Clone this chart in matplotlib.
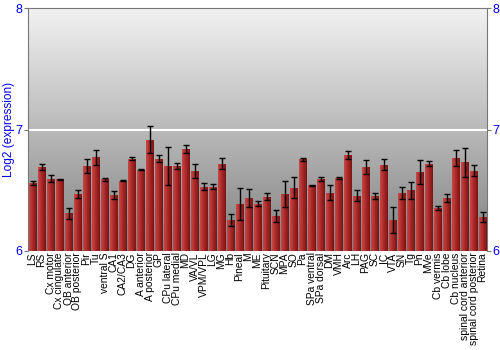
import matplotlib
matplotlib.use('Agg')
import matplotlib.pyplot as plt
import numpy as np
from matplotlib.colors import LinearSegmentedColormap

plt.rcParams['font.family'] = ['Liberation Sans', 'DejaVu Sans']

regions = ['LS', 'RS', 'Cx motor', 'Cx cingulate', 'OB anterior', 'OB posterior',
           'Pir', 'Tu', 'ventral S', 'CA1', 'CA2/CA3', 'DG', 'A anterior',
           'A posterior', 'GP', 'CPu lateral', 'CPu medial', 'MD', 'VA/VL',
           'VPM/VPL', 'LG', 'MG', 'Hb', 'Pineal', 'M', 'ME', 'Pituitary', 'SCN',
           'MPA', 'SO', 'Pa', 'SPa ventral', 'SPa dorsal', 'DM', 'VMH', 'Arc',
           'LH', 'PAG', 'SC', 'IC', 'VTA', 'SN', 'Tg', 'Pn', 'MVe', 'Cb vermis',
           'Cb lobe', 'Cb nucleus', 'spinal cord anterior',
           'spinal cord posterior', 'Retina']

expr = [6.56, 6.69, 6.595, 6.59, 6.31, 6.47, 6.70, 6.77, 6.59, 6.46, 6.58,
        6.76, 6.67, 6.915, 6.76, 6.70, 6.70, 6.84, 6.66, 6.53, 6.53, 6.72,
        6.256, 6.386, 6.435, 6.39, 6.446, 6.29, 6.47, 6.52, 6.755, 6.54,
        6.59, 6.48, 6.60, 6.79, 6.455, 6.69, 6.455, 6.71, 6.256, 6.477,
        6.50, 6.65, 6.72, 6.355, 6.44, 6.766, 6.73, 6.66, 6.28]

err = [0.017, 0.022, 0.028, 0.006, 0.044, 0.033, 0.055, 0.063, 0.011, 0.033,
       0.005, 0.011, 0.005, 0.11, 0.03, 0.157, 0.028, 0.036, 0.058, 0.028,
       0.019, 0.047, 0.05, 0.132, 0.072, 0.022, 0.03, 0.05, 0.105, 0.088,
       0.011, 0.006, 0.017, 0.063, 0.008, 0.03, 0.047, 0.058, 0.025, 0.047,
       0.105, 0.05, 0.069, 0.096, 0.022, 0.019, 0.033, 0.063, 0.12, 0.044,
       0.039]

fig = plt.figure(figsize=(5, 3.5), dpi=100)
ax = fig.add_axes([0.056, 0.283, 0.918, 0.694])

x = np.arange(len(regions))
ax.set_xlim(-0.5, len(regions) - 0.5)
ax.set_ylim(6, 8)

# background: vertical grey gradient
bg = LinearSegmentedColormap.from_list('bg', ['#808080', '#f2f2f2'])
ax.imshow(np.linspace(0, 1, 256).reshape(-1, 1), cmap=bg, origin='lower',
          extent=[0, 1, 0, 1], transform=ax.transAxes, aspect='auto', zorder=0)
ax.axhline(7, color='white', lw=1.5, zorder=1)

bars = ax.bar(x, np.array(expr) - 6, bottom=6, width=0.86, color='#b03030',
              zorder=2, linewidth=0)

# horizontal shading inside each bar
redgrad = LinearSegmentedColormap.from_list('rg', ['#c84848', '#a82828', '#7a1515'])
row = np.linspace(0, 1, 64).reshape(1, -1)
for b in bars:
    x0, w, h = b.get_x(), b.get_width(), b.get_height()
    im = ax.imshow(row, cmap=redgrad, extent=[x0, x0 + w, 6, 6 + h],
                   aspect='auto', zorder=3)
    im.set_clip_path(b)

ax.errorbar(x, expr, yerr=err, fmt='none', ecolor='black', elinewidth=1,
            capsize=2, capthick=1, zorder=4)

ax.set_xticks(x)
ax.set_xticklabels(regions, rotation=90, fontsize=7.4)
ax.tick_params(axis='x', length=0, pad=1)
ax.set_yticks([6, 7, 8])
ax.tick_params(axis='y', colors='#777777', labelcolor='blue', labelsize=9,
               length=3, right=True, labelright=True, pad=1)
ax.set_ylabel('Log2 (expression)', color='blue', fontsize=8.6)
ax.yaxis.set_label_coords(-0.028, 0.5)

for s in ['left', 'right', 'top']:
    ax.spines[s].set_color('#777777')
ax.spines['bottom'].set_visible(False)

fig.savefig('out.png', dpi=100)
